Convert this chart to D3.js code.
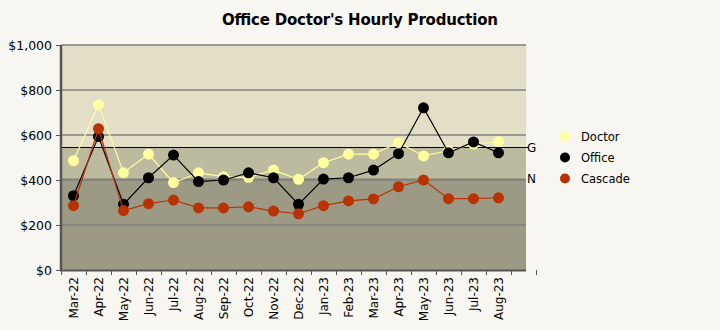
<!DOCTYPE html>
<html><head><meta charset="utf-8">
<script src="https://cdn.jsdelivr.net/npm/d3@7"></script>
<style>
html,body{margin:0;padding:0;background:#f8f6f0;}
svg{display:block;}
text{font-family:"DejaVu Sans",Verdana,sans-serif;}
</style></head>
<body>
<svg id="c" width="720" height="330"></svg>
<script>
const categories = ["Mar-22","Apr-22","May-22","Jun-22","Jul-22","Aug-22","Sep-22","Oct-22","Nov-22","Dec-22","Jan-23","Feb-23","Mar-23","Apr-23","May-23","Jun-23","Jul-23","Aug-23"];
const doctor  = [486,735,432,515,388,432,415,412,444,403,477,515,515,566,507,530,560,570];
const office  = [330,593,292,410,511,393,400,432,410,292,404,410,444,517,721,521,569,521];
const cascade = [286,628,264,295,311,276,276,281,262,250,286,307,316,370,400,317,317,321];
const yTicks = [0,200,400,600,800,1000];
const goalG = 545;
const goalN = 410;
const seriesNames = ["Doctor","Office","Cascade"];
const seriesColors = ["#ffff9e","#000000","#b83300"];

const svg = d3.select("#c");
const L = 61, R = 526, T = 45, B = 270;
const slot = 25;
const y = d3.scaleLinear().domain([0,1000]).range([B,T]);
const x = d3.scaleBand().domain(categories).range([L, L + slot*categories.length]).paddingInner(0).paddingOuter(0);

// bands
svg.append("rect").attr("x",L).attr("y",y(1000)).attr("width",R-L).attr("height",y(goalG)-y(1000)).attr("fill","#e3dec6");
svg.append("rect").attr("x",L).attr("y",y(goalG)).attr("width",R-L).attr("height",y(goalN)-y(goalG)).attr("fill","#bdbb9f");
svg.append("rect").attr("x",L).attr("y",y(goalN)).attr("width",R-L).attr("height",y(0)-y(goalN)).attr("fill","#9c9a85");

// gridlines
svg.append("g").selectAll("line").data(yTicks.filter(d=>d>0)).join("line")
  .attr("x1",L).attr("x2",R).attr("y1",d=>y(d)).attr("y2",d=>y(d))
  .attr("stroke","#7f7f7f").attr("stroke-width",1.5);

// goal line G
svg.append("line").attr("x1",L).attr("x2",528).attr("y1",Math.round(y(goalG))+0.5).attr("y2",Math.round(y(goalG))+0.5)
  .attr("stroke","#000").attr("stroke-width",1);
svg.append("text").attr("x",527).attr("y",y(goalG)+5).attr("font-size",12).attr("fill","#000").text("G");
svg.append("text").attr("x",527).attr("y",y(goalN)+5).attr("font-size",12).attr("fill","#000").text("N");

// y axis
const yAxis = d3.axisLeft(y).tickValues(yTicks).tickSize(5).tickPadding(4).tickFormat(d=>"$"+d3.format(",")(d));
const gy = svg.append("g").attr("transform",`translate(${L},0)`).call(yAxis);
gy.select(".domain").remove();
gy.selectAll(".tick line").attr("stroke","#555");
gy.selectAll("text").attr("font-size",12.5).attr("fill","#000").attr("font-family","DejaVu Sans, sans-serif");
svg.append("line").attr("x1",L).attr("x2",L).attr("y1",T).attr("y2",B+1).attr("stroke","#555").attr("stroke-width",2.5);

// x axis
svg.append("line").attr("x1",L-1).attr("x2",R).attr("y1",B+0.5).attr("y2",B+0.5).attr("stroke","#555").attr("stroke-width",2);
const xTickPos = categories.map(c=>x(c)).concat([x(categories[categories.length-1])+slot, L + slot*(categories.length) + slot]);
svg.append("g").selectAll("line").data(xTickPos).join("line")
  .attr("x1",d=>Math.round(d)+0.5).attr("x2",d=>Math.round(d)+0.5).attr("y1",B).attr("y2",B+5)
  .attr("stroke","#555").attr("stroke-width",1);
svg.append("g").selectAll("text").data(categories).join("text")
  .attr("transform",d=>`translate(${x(d)+x.bandwidth()/2+4},${B+7}) rotate(-90)`)
  .attr("text-anchor","end").attr("font-size",12).attr("fill","#000").text(d=>d);

// series
const data = [doctor, office, cascade];
const line = d3.line().x((d,i)=>x(categories[i])+x.bandwidth()/2).y(d=>y(d));
data.forEach((vals,si)=>{
  const g = svg.append("g");
  g.append("path").datum(vals).attr("d",line).attr("fill","none").attr("stroke",seriesColors[si]).attr("stroke-width",1.2);
  g.selectAll("circle").data(vals).join("circle")
    .attr("cx",(d,i)=>x(categories[i])+x.bandwidth()/2).attr("cy",d=>y(d)).attr("r",5.5)
    .attr("fill",seriesColors[si]);
});

// legend
const lg = svg.append("g");
seriesNames.forEach((n,i)=>{
  lg.append("circle").attr("cx",565).attr("cy",136.5+21*i).attr("r",5).attr("fill",seriesColors[i]);
  lg.append("text").attr("x",581).attr("y",136.5+21*i+4).attr("font-size",11.5).attr("fill","#000").text(n);
});

// title
svg.append("text").attr("x",360).attr("y",25).attr("text-anchor","middle").attr("font-size",15).attr("font-weight","bold").attr("fill","#000")
  .attr("textLength",276).attr("lengthAdjust","spacing")
  .text("Office Doctor's Hourly Production");
</script>
</body></html>
